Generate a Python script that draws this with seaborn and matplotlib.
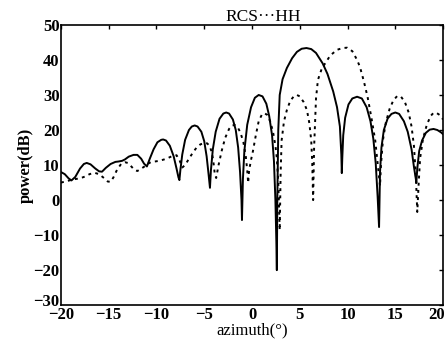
import numpy as np
import pandas as pd
import matplotlib
matplotlib.use('Agg')
import matplotlib.pyplot as plt
import matplotlib.transforms as mtransforms
import seaborn as sns

# solid curve
solid_az = [-20, -19.6, -19.2, -18.9, -18.5, -18.0, -17.6, -17.3, -16.9, -16.4, -16.0, -15.7,
            -15.3, -14.8, -14.3, -14.0, -13.6, -13.3, -12.9, -12.4, -12.0, -11.6, -11.3, -11.0,
            -10.7, -10.3, -9.9, -9.5, -9.3, -9.0, -8.6, -8.2, -7.9, -7.7, -7.6,
            -7.5, -7.3, -7.0, -6.6, -6.3, -6.0, -5.7, -5.3, -5.0, -4.75, -4.55, -4.4,
            -4.3, -4.1, -3.8, -3.4, -3.0, -2.7, -2.4, -2.0, -1.7, -1.45, -1.25, -1.1, -1.05,
            -0.95, -0.8, -0.5, -0.1, 0.3, 0.7, 1.1, 1.5, 1.8, 2.1, 2.3, 2.45, 2.55, 2.6,
            2.65, 2.75, 2.9, 3.2, 3.65, 4.2, 4.7, 5.2, 5.7, 6.2, 6.7, 7.4, 7.9, 8.5, 8.9, 9.2, 9.35, 9.4,
            9.45, 9.55, 9.75, 10.1, 10.5, 11.0, 11.5, 12.0, 12.4, 12.7, 12.95, 13.15, 13.3,
            13.4, 13.55, 13.8, 14.2, 14.6, 15.0, 15.4, 15.9, 16.3, 16.7, 16.95, 17.15, 17.2,
            17.3, 17.5, 17.8, 18.2, 18.6, 19.0, 19.4, 19.8, 20.0]
solid_db = [8.0, 7.4, 6.2, 5.6, 6.6, 9.0, 10.3, 10.6, 10.2, 9.0, 8.2, 8.1,
            9.2, 10.3, 10.9, 11.0, 11.2, 11.6, 12.4, 12.9, 12.9, 11.8, 10.4, 9.6,
            11.8, 14.5, 16.5, 17.2, 17.3, 17.0, 15.5, 12.5, 9.0, 6.5, 5.7,
            8.5, 13.0, 17.2, 20.0, 21.0, 21.3, 21.0, 19.5, 16.8, 12.5, 7.5, 3.5,
            8.5, 14.5, 19.5, 23.2, 24.7, 25.0, 24.7, 23.0, 20.0, 15.0, 8.0, 0.0, -5.7,
            6.0, 14.0, 21.5, 26.5, 29.2, 30.0, 29.6, 27.5, 24.0, 18.5, 11.0, 0.0, -12.0, -20.0,
            0.0, 20.0, 30.0, 34.5, 37.7, 40.5, 42.3, 43.2, 43.4, 43.1, 42.0, 39.0, 36.0, 31.0, 26.5, 21.0, 13.0, 7.7,
            12.0, 18.5, 23.5, 27.3, 29.0, 29.5, 29.0, 26.5, 22.5, 17.5, 10.5, 1.0, -7.7,
            8.0, 15.0, 20.0, 23.3, 24.6, 25.0, 24.6, 22.5, 19.5, 14.5, 9.5, 6.0, 4.9,
            9.0, 14.0, 17.0, 19.2, 20.1, 20.3, 20.0, 19.3, 18.8]

# dotted curve
dot_az = [-20, -19.5, -19.0, -18.5, -18.0, -17.5, -17.0, -16.5, -16.0, -15.5, -15.1, -14.8,
          -14.5, -14.1, -13.7, -13.3, -13.0, -12.7, -12.3, -12.0, -11.7, -11.3, -11.0, -10.6,
          -10.2, -9.7, -9.2, -8.8, -8.4, -7.9, -7.6, -7.3,
          -7.0, -6.6, -6.2, -5.8, -5.4, -5.0, -4.7, -4.45, -4.25, -4.1, -4.0, -3.9,
          -3.75, -3.5, -3.15, -2.8, -2.4, -2.1, -1.8, -1.5, -1.2, -0.9, -0.65, -0.5, -0.4,
          -0.3, -0.1, 0.1, 0.4, 0.7, 1.05, 1.3, 1.6, 1.9, 2.2, 2.45, 2.6, 2.75, 2.9,
          3.0, 3.1, 3.35, 3.65, 4.0, 4.4, 4.7, 5.0, 5.4, 5.75, 6.0, 6.2, 6.3, 6.4,
          6.5, 6.7, 6.9, 7.3, 7.65, 8.2, 8.9, 9.5, 9.95, 10.5, 11.0, 11.3, 11.7, 12.1, 12.5, 12.9, 13.15, 13.4,
          13.5, 13.7, 14.0, 14.4, 14.8, 15.2, 15.6, 16.0, 16.4, 16.7, 16.95, 17.15, 17.3,
          17.45, 17.6, 17.9, 18.3, 18.7, 19.0, 19.3, 19.7, 20.0]
dot_db = [5.0, 5.3, 5.7, 6.0, 6.2, 6.7, 7.4, 7.8, 7.4, 6.3, 5.3, 5.2,
          6.5, 8.8, 10.3, 10.8, 10.6, 9.8, 8.6, 8.3, 8.8, 9.5, 10.2, 10.8,
          11.0, 11.2, 11.6, 12.0, 12.5, 12.8, 11.5, 9.3,
          10.0, 11.8, 13.5, 15.0, 15.9, 16.3, 16.2, 15.5, 14.0, 12.0, 10.0, 7.5,
          6.3, 10.0, 14.3, 17.8, 20.3, 21.3, 21.4, 20.8, 19.2, 16.5, 12.5, 8.5, 4.9,
          8.5, 11.5, 14.0, 18.5, 22.5, 24.5, 24.8, 24.3, 22.5, 19.5, 15.5, 12.0, 5.0, -8.6,
          8.0, 17.0, 22.5, 25.7, 28.3, 29.7, 30.0, 29.6, 28.0, 25.7, 22.0, 17.0, 11.0, 0.0,
          15.0, 29.0, 34.3, 37.5, 39.0, 41.3, 42.9, 43.4, 43.5, 42.5, 40.0, 38.0, 34.0, 29.4, 23.5, 17.0, 10.5, 4.0,
          10.0, 17.0, 22.0, 26.0, 28.5, 29.7, 29.5, 28.0, 25.0, 21.0, 15.5, 7.0, -3.4,
          5.0, 12.0, 17.5, 21.5, 24.0, 24.9, 24.9, 24.2, 23.0]

y_ticks = [-30, -20, -10, 0, 10, 20, 30, 40, 50]
x_ticks = [-20, -15, -10, -5, 0, 5, 10, 15, 20]

sns.set_style('white')
plt.rcParams['font.family'] = ['Liberation Serif', 'DejaVu Serif']
plt.rcParams['text.color'] = 'black'
plt.rcParams['axes.labelcolor'] = 'black'

fig = plt.figure(figsize=(4.48, 3.46), dpi=100)
ax = fig.add_axes([0.136, 0.118, 0.853, 0.81])

sns.lineplot(x=solid_az, y=solid_db, color='black', linewidth=1.4, sort=False,
             estimator=None, ax=ax)
sns.lineplot(x=dot_az, y=dot_db, color='black', linewidth=1.4, sort=False,
             estimator=None, ax=ax, linestyle=(0, (1.5, 2.2)))

ax.set_xlim(-20, 20)
ax.set_ylim(-30, 50)
ax.set_xticks(x_ticks)
ax.set_yticks(y_ticks)
ax.set_xticklabels(['\u2212' + str(-t) if t < 0 else str(t) for t in x_ticks],
                   fontsize=12, fontweight='bold')
ax.set_yticklabels(['\u2212' + str(-t) if t < 0 else str(t) for t in y_ticks],
                   fontsize=12, fontweight='bold')
ax.tick_params(direction='in', length=3, width=1, top=True, right=True, pad=1,
               colors='black')
for s in ax.spines.values():
    s.set_color('black')
    s.set_linewidth(1.2)

# nudge the corner labels like the original
ylab0 = ax.get_yticklabels()[0]
ylab0.set_transform(ylab0.get_transform() + mtransforms.ScaledTranslation(0, 4 / 72, fig.dpi_scale_trans))
xlab_last = ax.get_xticklabels()[-1]
xlab_last.set_transform(xlab_last.get_transform() + mtransforms.ScaledTranslation(-5 / 72, 0, fig.dpi_scale_trans))

ax.set_title('RCS\u00b7\u00b7\u00b7HH', fontsize=12.5, pad=3, x=0.53, color='black')
ax.set_xlabel('azimuth(\u00b0)', fontsize=12, labelpad=0)
ax.set_ylabel('power(dB)', fontsize=12, fontweight='bold', labelpad=0)

fig.savefig('out.png', dpi=100, facecolor='white')
